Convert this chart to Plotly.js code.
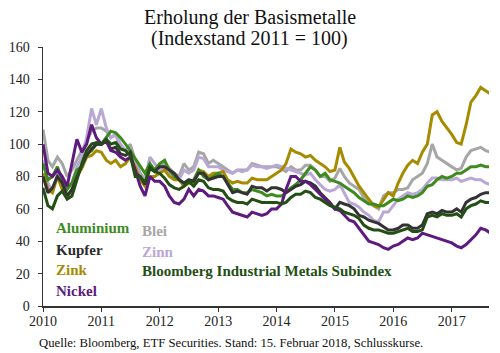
<!DOCTYPE html>
<html>
<head>
<meta charset="utf-8">
<script src="https://cdn.plot.ly/plotly-3.0.1.min.js"></script>
<style>html,body{margin:0;padding:0;background:#fff}#chart{width:500px;height:353px}</style>
</head>
<body>
<div id="chart"></div>
<script>
// Monthly readings (1st of month), Jan 2010 .. Sep 2017, index 2011 = 100
const startYear = 2010, startMonth = 1, monthCount = 93;
const yearTicks = ['2010','2011','2012','2013','2014','2015','2016','2017'];

const aluminium = [
  88,78,80,86,78,72,76,84,86,94,96,100,
  100,104,108,107,104,100,96,91,86,82,88,84,
  88,90,84,80,78,76,76,78,84,80,78,80,
  82,80,76,72,72,70,70,72,71,70,68,69,
  68,68,70,73,75,78,82,86,84,80,82,78,
  77,76,74,72,70,67,65,63,63,62,62,64,
  66,65,66,68,67,68,70,74,75,78,80,79,
  80,82,82,84,86,86,87,86,86];
const kupfer = [
  80,70,73,80,76,68,72,80,87,93,97,100,
  100,102,97,98,94,93,95,82,80,75,85,83,
  86,86,84,82,78,76,78,77,82,82,78,79,
  80,80,75,70,71,70,69,74,73,73,71,73,
  73,72,70,72,74,75,77,76,74,70,67,64,
  60,64,63,62,60,56,55,53,52,51,49,47,
  47,48,50,50,48,48,50,57,58,57,59,58,
  58,60,58,64,66,67,69,70,70];
const zink = [
  82,72,70,80,72,67,72,80,85,92,93,96,
  95,90,88,90,86,88,92,86,78,74,80,80,
  82,84,80,78,78,74,76,76,84,83,80,82,
  82,83,78,76,77,76,76,79,78,78,78,80,
  82,84,88,97,95,94,92,93,90,88,86,83,
  84,98,89,85,80,74,70,66,62,61,66,70,
  68,76,82,87,90,88,95,100,118,120,114,110,
  106,101,100,112,126,130,135,133,131];
const nickel = [
  100,82,80,84,80,74,88,103,95,100,112,104,
  100,102,96,95,92,90,92,84,74,68,80,77,
  77,74,68,64,63,66,72,68,72,71,68,68,
  67,66,62,58,57,56,55,58,57,56,57,60,
  60,63,72,80,80,77,77,75,72,69,66,63,
  60,59,56,53,52,48,44,40,39,38,36,35,
  37,38,40,42,41,42,45,44,43,42,41,40,
  39,37,36,38,41,44,48,47,45];
const blei = [
  109,90,86,92,88,80,84,90,96,102,108,110,
  110,108,104,106,98,96,100,90,82,78,86,84,
  86,88,85,82,80,88,84,86,95,94,88,90,
  88,86,84,82,84,84,84,88,87,86,86,86,
  86,85,83,86,84,84,87,87,84,80,80,77,
  79,85,80,76,74,72,67,64,62,60,68,70,
  70,72,72,73,78,80,82,88,100,92,90,88,
  86,84,85,92,96,97,98,96,95];
const zinn = [
  90,76,70,82,80,74,76,86,92,104,122,112,
  122,110,104,106,100,96,97,88,80,78,92,88,
  84,86,82,79,78,84,82,84,92,91,86,86,
  86,84,83,82,84,83,84,87,86,86,85,86,
  87,86,85,84,83,82,81,82,78,75,72,71,
  72,75,70,64,63,61,58,56,53,52,58,58,
  62,66,68,70,69,70,72,76,79,79,78,78,
  78,79,77,78,79,78,78,76,75];
const bcom = [
  73,62,60,68,71,66,68,78,88,96,100,101,
  100,103,100,101,97,96,93,80,80,76,86,83,
  82,79,75,73,72,74,77,74,78,77,73,72,
  72,71,67,65,64,64,63,66,65,64,64,64,
  64,63,64,67,69,69,71,70,67,66,64,62,
  61,60,58,57,56,54,50,48,47,47,46,45,
  45,46,47,48,46,46,47,55,56,55,57,56,
  56,57,55,60,62,63,65,64,64];

const dates = [];
for (let i = 0; i < monthCount; i++) {
  const y = startYear + Math.floor((startMonth - 1 + i) / 12);
  const m = ((startMonth - 1 + i) % 12) + 1;
  dates.push(y + '-' + String(m).padStart(2, '0') + '-01');
}

const series = [
  {name: 'Blei', y: blei, color: '#a6a6a6'},
  {name: 'Zinn', y: zinn, color: '#b9a8d6'},
  {name: 'Zink', y: zink, color: '#a68b00'},
  {name: 'Aluminium', y: aluminium, color: '#3d8b1f'},
  {name: 'Kupfer', y: kupfer, color: '#333333'},
  {name: 'Nickel', y: nickel, color: '#5e1a7f'},
  {name: 'Bloomberg Industrial Metals Subindex', y: bcom, color: '#234f15'}
];

const traces = series.map(s => ({
  type: 'scatter', mode: 'lines', x: dates, y: s.y, name: s.name,
  line: {color: s.color, width: 3}, hoverinfo: 'skip'
}));

const F = 'Liberation Serif, Times New Roman, serif';
const legendItems = [
  {t: 'Aluminium', c: '#3d8b1f', x: 0.025, y: 0.300},
  {t: 'Kupfer', c: '#2b2b2b', x: 0.025, y: 0.215},
  {t: 'Zink', c: '#a68b00', x: 0.025, y: 0.138},
  {t: 'Nickel', c: '#5e1a7f', x: 0.025, y: 0.057},
  {t: 'Blei', c: '#a6a6a6', x: 0.218, y: 0.289},
  {t: 'Zinn', c: '#b9a8d6', x: 0.218, y: 0.208},
  {t: 'Bloomberg Industrial Metals Subindex', c: '#234f15', x: 0.218, y: 0.134}
];
const annotations = legendItems.map(l => ({
  text: '<b>' + l.t + '</b>', xref: 'paper', yref: 'paper', x: l.x, y: l.y,
  xanchor: 'left', yanchor: 'middle', showarrow: false,
  font: {family: F, size: 15, color: l.c}
}));
annotations.push(
  {text: 'Erholung der Basismetalle', xref: 'paper', yref: 'paper', x: 0.464, y: 1.114,
   xanchor: 'center', yanchor: 'middle', showarrow: false, font: {family: F, size: 20, color: '#111'}},
  {text: '(Indexstand 2011 = 100)', xref: 'paper', yref: 'paper', x: 0.464, y: 1.034,
   xanchor: 'center', yanchor: 'middle', showarrow: false, font: {family: F, size: 20, color: '#111'}},
  {text: 'Quelle: Bloomberg, ETF Securities. Stand: 15. Februar 2018, Schlusskurse.',
   xref: 'paper', yref: 'paper', x: -0.014, y: -0.144, xanchor: 'left', yanchor: 'middle',
   showarrow: false, font: {family: F, size: 12.7, color: '#111'}}
);

const layout = {
  width: 500, height: 353,
  margin: {l: 43, r: 11, t: 47, b: 47},
  paper_bgcolor: '#fff', plot_bgcolor: '#fff',
  showlegend: false,
  xaxis: {
    type: 'date', range: ['2010-01-01', '2017-08-22'],
    tickvals: yearTicks.map(y => y + '-01-01'), ticktext: yearTicks,
    ticks: 'outside', ticklen: 4, tickwidth: 1, tickcolor: '#333',
    showline: true, linecolor: '#333', linewidth: 1.5,
    showgrid: false, zeroline: false, ticklabelstandoff: -2,
    tickfont: {family: F, size: 14, color: '#222'}
  },
  yaxis: {
    range: [0, 160], tickvals: [0,20,40,60,80,100,120,140,160],
    ticks: 'outside', ticklen: 4, tickwidth: 1, tickcolor: '#333',
    showline: true, linecolor: '#333', linewidth: 1.5,
    showgrid: false, zeroline: false, ticklabelstandoff: 5,
    tickfont: {family: F, size: 14, color: '#222'}
  },
  annotations: annotations
};

Plotly.newPlot('chart', traces, layout, {displayModeBar: false, staticPlot: true});
</script>
</body>
</html>
